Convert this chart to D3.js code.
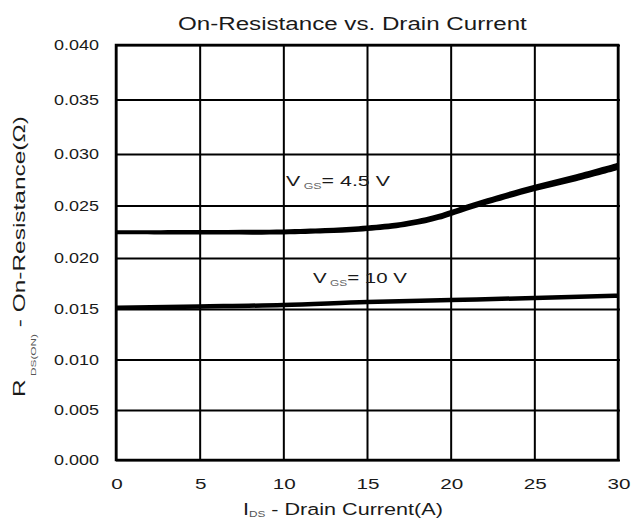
<!DOCTYPE html>
<html><head><meta charset="utf-8">
<script src="https://cdn.jsdelivr.net/npm/d3@7"></script>
<style>
body{margin:0;background:#fff}
svg{display:block}
text{font-family:"Liberation Sans",Arial,sans-serif;fill:#1a1a1a}
</style>
</head><body><svg id="c" width="643" height="520"></svg>
<script>
// ---- data ----
const chartTitle = "On-Resistance vs. Drain Current";
const xTicks = [0, 5, 10, 15, 20, 25, 30];
const xTickLabels = ["0", "5", "10", "15", "20", "25", "30"];
const yTicks = [0, 0.005, 0.010, 0.015, 0.020, 0.025, 0.030, 0.035, 0.040];
const yTickLabels = ["0.000", "0.005", "0.010", "0.015", "0.020", "0.025", "0.030", "0.035", "0.040"];
const idVgs45  = [0, 5, 10, 12.5, 14.5, 16.5, 17.5, 18.5, 19.3, 20, 21.3, 22.5, 25, 27.5, 30];
const rdsVgs45 = [0.02245, 0.02245, 0.02248, 0.0226, 0.02276, 0.02305, 0.0233, 0.0236, 0.02392, 0.02428, 0.02497, 0.02555, 0.0267, 0.0277, 0.0288];
const idVgs10  = [0, 5, 10, 15, 20, 25, 30];
const rdsVgs10 = [0.01513, 0.01525, 0.01539, 0.01569, 0.01588, 0.01608, 0.0163];

// ---- layout ----
const svg = d3.select("#c");
const L = 116, R = 618;
const x = d3.scaleLinear().domain([0, 30]).range([L, R]);
// scanned original has slightly uneven gridline spacing: calibrate per tick
const y = d3.scaleLinear().domain(yTicks).range([460, 410, 359.5, 309, 258, 205.5, 154, 99.5, 45]);
const T = y(0.04), B = y(0);

// gridlines via axes
svg.append("g").attr("transform", `translate(0,${B})`)
  .call(d3.axisBottom(x).tickValues(xTicks).tickSize(-(B - T)).tickFormat(""))
  .call(g => g.select(".domain").remove())
  .call(g => g.selectAll("line").attr("stroke", "#000").attr("stroke-width", 2));
svg.append("g").attr("transform", `translate(${L},0)`)
  .call(d3.axisLeft(y).tickValues(yTicks).tickSize(-(R - L + 2)).tickFormat(""))
  .call(g => g.select(".domain").remove())
  .call(g => g.selectAll("line").attr("stroke", "#000").attr("stroke-width", 2));
svg.append("rect").attr("x", L).attr("y", T).attr("width", R - L).attr("height", B - T)
  .attr("fill", "none").attr("stroke", "#000").attr("stroke-width", 2.5);

// helper: text stretched horizontally to a target width
function fitText(g, target) {
  const t = g.select("text");
  const w = t.node().getComputedTextLength();
  t.attr("transform", `scale(${target / w},1)`);
}

// tick labels
yTicks.forEach((v, i) => {
  const g = svg.append("g").attr("transform", `translate(${99},${y(v) + 5})`);
  g.append("text").attr("text-anchor", "end").attr("font-size", 14).text(yTickLabels[i]);
  fitText(g, 45);
});
xTicks.forEach((v, i) => {
  const g = svg.append("g").attr("transform", `translate(${x(v) + 1},${489})`);
  g.append("text").attr("text-anchor", "middle").attr("font-size", 15).text(xTickLabels[i]);
  fitText(g, xTickLabels[i].length * 11.5);
});

// title
{
  const g = svg.append("g").attr("transform", "translate(178,30)");
  g.append("text").attr("font-size", 17.5).text(chartTitle);
  fitText(g, 349);
}
// x-axis label
{
  const g = svg.append("g").attr("transform", "translate(243,515)");
  const t = g.append("text").attr("font-size", 16.5);
  t.append("tspan").text("I");
  t.append("tspan").attr("font-size", 9).attr("dy", 2).attr("fill", "#555").text("DS");
  t.append("tspan").attr("dy", -2).text("  - Drain Current(A)");
  fitText(g, 200);
}
// y-axis label
{
  const g = svg.append("g").attr("transform", "translate(25,397) rotate(-90)");
  const t = g.append("text").attr("font-size", 16.5);
  t.append("tspan").text("R");
  t.append("tspan").attr("font-size", 8).attr("dy", 11).attr("fill", "#555").text(" DS(ON)");
  t.append("tspan").attr("dy", -11).text("  - On-Resistance(\u03A9)");
  fitText(g, 281);
}

// curves
const line = d3.line().x(d => x(d[0])).y(d => y(d[1])).curve(d3.curveMonotoneX);
const d45 = idVgs45.map((v, i) => [v, rdsVgs45[i]]);
const d10 = idVgs10.map((v, i) => [v, rdsVgs10[i]]);
// Vgs = 4.5 V drawn as a band that thickens to the right, like the original
const halfW = d3.scaleLinear().domain([0, 30]).range([2, 3.6]);
svg.append("path")
  .attr("d", d3.area().x(d => x(d[0])).y0(d => y(d[1]) - halfW(d[0])).y1(d => y(d[1]) + halfW(d[0])).curve(d3.curveCatmullRom.alpha(0.5))(d45))
  .attr("fill", "#000");
svg.append("path").attr("d", line(d10)).attr("fill", "none").attr("stroke", "#000").attr("stroke-width", 4.5);

// annotations
function annot(px, py, sub, rest, target) {
  const g = svg.append("g").attr("transform", `translate(${px},${py})`);
  const t = g.append("text").attr("font-size", 15.5);
  t.append("tspan").text("V");
  t.append("tspan").attr("font-size", 9).attr("dy", 3).attr("fill", "#666").text(" " + sub);
  t.append("tspan").attr("dy", -3).text(rest);
  fitText(g, target);
}
annot(286, 186, "GS", "= 4.5 V", 104);
annot(313, 283, "GS", "= 10 V", 94);
</script>
</body></html>
